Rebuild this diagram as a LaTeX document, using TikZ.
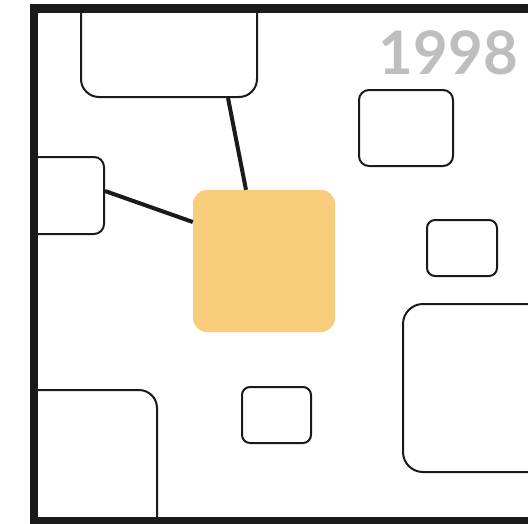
\documentclass[tikz,border=0pt]{standalone}
\usepackage{xcolor}
\usepackage{fontspec}
\usepackage{tikz}
\usetikzlibrary{positioning, calc}
\newfontfamily\yearfont{Lato}
\definecolor{planblack}{HTML}{1A1A1A}
\definecolor{planyellow}{HTML}{F7CD7B}
\definecolor{plangrey}{HTML}{BEBEBE}

\begin{document}
\begin{tikzpicture}[x=1pt, y=-1pt,
  room/.style={draw=planblack, line width=2pt, fill=white, rectangle, inner sep=0pt},
  link/.style={draw=planblack, line width=4pt}]
\useasboundingbox[fill=white] (0,0) rectangle (528,523);
\begin{scope}
\clip (38,13) rectangle (540,517);
\node[room, rounded corners=18pt, minimum width=176pt, minimum height=107pt] (hall) at (169,43.5) {};
\node[room, rounded corners=10pt, minimum width=104pt, minimum height=77pt] (porch) at (52,195.5) {};
\node[room, rounded corners=10pt, minimum width=94pt, minimum height=76pt] (study) at (406,128) {};
\node[room, rounded corners=8pt, minimum width=70pt, minimum height=56pt] (closet) at (462,248) {};
\node[room, rounded corners=8pt, minimum width=69pt, minimum height=56pt] (bath) at (276.5,415) {};
\node[room, rounded corners=18pt, minimum width=157pt, minimum height=170pt] (garage) at (78.5,475) {};
\node[room, rounded corners=20pt, minimum width=197pt, minimum height=168pt] (lounge) at (501.5,388) {};
\node[fill=planyellow, rounded corners=14pt, minimum width=142pt, minimum height=142pt, inner sep=0pt] (core) at (264,261) {};
\draw[link] ([xshift=59pt]hall.south) -- ([xshift=-18pt]core.north);
\draw[link] ([yshift=4.5pt]porch.east) -- ([yshift=39pt]core.west);
\end{scope}
\draw[draw=planblack, line width=8.5pt] (34,560) -- (34,8.5) -- (560,8.5);
\draw[draw=planblack, line width=8.5pt] (34,521.5) -- (560,521.5);
\node[anchor=base east, inner sep=0pt, text=plangrey, font=\yearfont\bfseries\fontsize{60}{62}\selectfont] (year) at (518,74) {1998};
\end{tikzpicture}
\end{document}
